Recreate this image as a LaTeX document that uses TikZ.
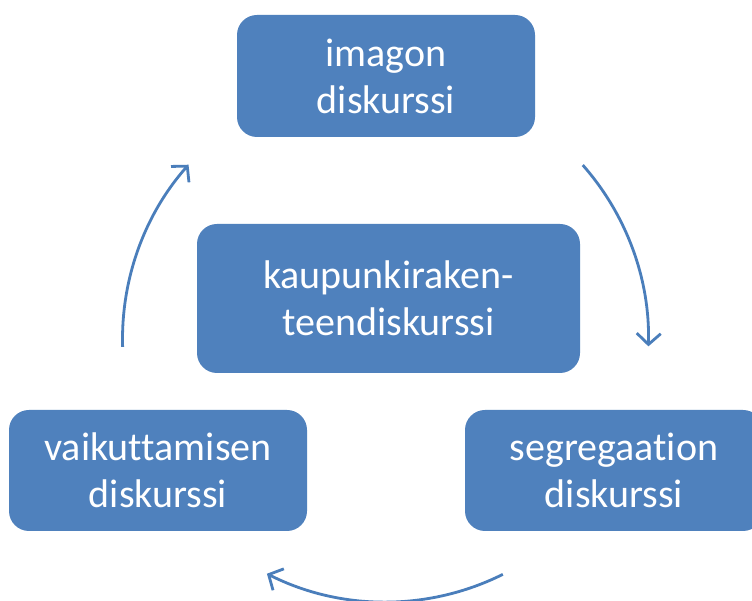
\documentclass[tikz,border=0pt]{standalone}
\usepackage{fontspec}
\setmainfont[Ligatures=NoCommon]{Carlito}
\usetikzlibrary{arrows.meta}
\definecolor{boxblue}{HTML}{4F81BD}
\definecolor{arrblue}{HTML}{4A7EBB}
\begin{document}
\begin{tikzpicture}[x=1pt,y=1pt,
  dbox/.style={fill=boxblue, draw=none, rounded corners=20pt, text=white,
    font=\fontsize{40}{47}\selectfont, align=center, inner sep=0pt},
  arr/.style={draw=arrblue, line width=2.8pt, -{Straight Barb[length=11pt,width=24pt,line width=2.8pt]}}]
\clip (0,0) rectangle (752,601);
\useasboundingbox (0,0) rectangle (752,601);
\fill[white] (0,0) rectangle (752,601);
\node[dbox, minimum width=298pt, minimum height=122pt] (top) at (386,525) {imagon\\diskurssi};
\node[dbox, minimum width=383pt, minimum height=149pt] (mid) at (388.5,302.5) {kaupunkiraken-\\teendiskurssi};
\node[dbox, minimum width=298pt, minimum height=121pt] (left) at (158,130.5) {vaikuttamisen\\diskurssi};
\node[dbox, minimum width=298pt, minimum height=121pt] (right) at (614,130.5) {segregaation\\diskurssi};
\coordinate (c) at (385.5,262);
\draw[arr] ([shift={(181.7:263pt)}]c) arc[start angle=181.7, end angle=138.5, radius=263pt];
\draw[arr] ([shift={(41.4:263pt)}]c) arc[start angle=41.4, end angle=-1.6, radius=263pt];
\draw[arr] ([shift={(-63.5:263pt)}]c) arc[start angle=-63.5, end angle=-116.8, radius=263pt];
\end{tikzpicture}
\end{document}
